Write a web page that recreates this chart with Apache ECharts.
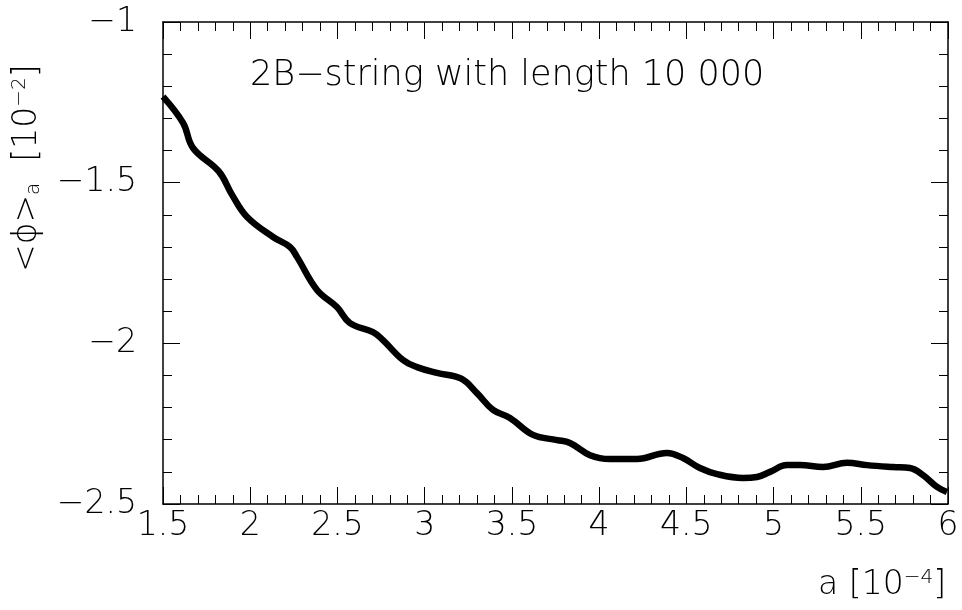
<!DOCTYPE html>
<html>
<head>
<meta charset="utf-8">
<script src="https://cdn.jsdelivr.net/npm/echarts@6/dist/echarts.min.js"></script>
<style>
html,body{margin:0;padding:0;background:#fff;}
#main{width:962px;height:610px;}
</style>
</head>
<body>
<div id="main"></div>
<script>
// a [10^-4]
var aVals=[1.5,1.615,1.672,1.82,1.896,1.982,2.131,2.228,2.268,2.383,2.497,2.572,2.704,2.761,2.876,2.956,3.071,3.21,3.30,3.392,3.489,3.621,3.759,3.833,3.948,4.062,4.217,4.389,4.481,4.578,4.676,4.825,4.905,4.98,5.077,5.152,5.284,5.421,5.536,5.685,5.782,5.857,5.937,5.994];
// <phi>_a [10^-2]
var phiVals=[-1.232,-1.314,-1.392,-1.465,-1.538,-1.607,-1.669,-1.700,-1.731,-1.834,-1.887,-1.937,-1.965,-1.990,-2.052,-2.074,-2.092,-2.110,-2.155,-2.207,-2.232,-2.285,-2.301,-2.310,-2.348,-2.360,-2.360,-2.341,-2.357,-2.388,-2.407,-2.419,-2.416,-2.400,-2.379,-2.379,-2.385,-2.372,-2.379,-2.385,-2.388,-2.410,-2.447,-2.463];
var xTicks=[1.5,2,2.5,3,3.5,4,4.5,5,5.5,6];
var yTicks=[-2.5,-2,-1.5,-1];

var chart=echarts.init(document.getElementById('main'));
var font='DejaVu Sans';
var pts=[];
for(var i=0;i<aVals.length;i++){pts.push([aVals[i],phiVals[i]]);}

function fmt(v){return String(v).replace('-','\u2212');}

// 四边刻度，朝内
function axisBase(pos,showLabel,isX){
	var ticks=isX?xTicks:yTicks;
	return {
		type:'value',
		position:pos,
		min:ticks[0],
		max:ticks[ticks.length-1],
		interval:0.5,
		axisLine:{show:true,onZero:false,lineStyle:{color:'#000',width:1.5}},
		axisTick:{show:true,inside:true,length:17,lineStyle:{color:'#000',width:1}},
		minorTick:{show:true,splitNumber:5,length:9,lineStyle:{color:'#000',width:1}},
		splitLine:{show:false},
		axisLabel:{
			show:showLabel,
			formatter:fmt,
			color:'#000',
			fontFamily:font,
			fontWeight:200,
			fontSize:33,
			margin:isX?6:26
		}
	};
}

var option={
	backgroundColor:'#fff',
	animation:false,
	grid:{left:163,right:14,top:22,bottom:106},
	xAxis:[axisBase('bottom',true,true),axisBase('top',false,true)],
	yAxis:[axisBase('left',true,false),axisBase('right',false,false)],
	graphic:[
		{
			type:'text',left:250,top:58,
			style:{text:'2B\u2212string with length 10 000',font:'200 35px "DejaVu Sans"',fill:'#000'}
		},
		{
			type:'text',right:16,top:568,
			style:{
				text:'{n|a [10}{sup|\u22124}{n|]}',
				rich:{
					n:{fontFamily:font,fontWeight:200,fontSize:33,fill:'#000'},
					sup:{fontFamily:font,fontWeight:200,fontSize:20,fill:'#000',padding:[0,0,14,0]}
				}
			}
		},
		{
			type:'text',x:10,y:272,rotation:Math.PI/2,
			style:{
				text:'{n|<\u03d5>}{sub|a}{n|  [10}{sup|\u22122}{n|]}',
				rich:{
					n:{fontFamily:font,fontWeight:200,fontSize:33,fill:'#000'},
					sub:{fontFamily:font,fontWeight:200,fontSize:20,fill:'#000',padding:[14,0,0,0]},
					sup:{fontFamily:font,fontWeight:200,fontSize:20,fill:'#000',padding:[0,0,14,0]}
				}
			}
		}
	],
	series:[{
		type:'line',
		data:pts,
		smooth:0.4,
		symbol:'none',
		lineStyle:{color:'#000',width:6.5},
		xAxisIndex:0,
		yAxisIndex:0
	}]
};
chart.setOption(option);
</script>
</body>
</html>
